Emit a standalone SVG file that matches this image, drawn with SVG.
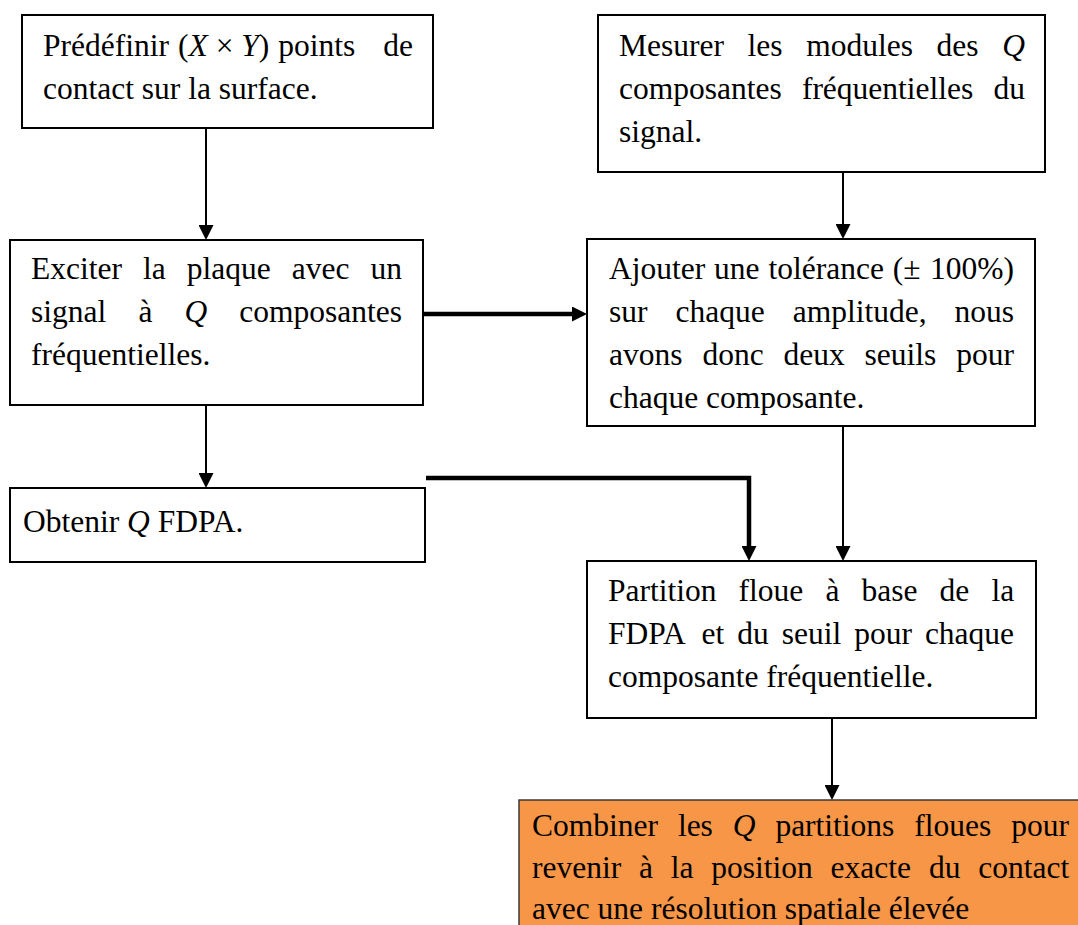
<svg xmlns="http://www.w3.org/2000/svg" width="1078" height="925" viewBox="0 0 1078 925">
<style>
.box{fill:#fff;stroke:#000;stroke-width:2}
.hl{fill:#F79646;stroke:#3a3a3a;stroke-width:1.5}
text{font-family:"Liberation Serif","Times New Roman",serif;font-size:31.5px;fill:#000}
.i{font-style:italic}
.thin{fill:none;stroke:#000;stroke-width:2}
.thick{fill:none;stroke:#000;stroke-width:4.5}
</style>
<defs>
<marker id="ah" markerUnits="userSpaceOnUse" markerWidth="15" markerHeight="15" refX="5" refY="7.5" orient="auto">
<path d="M0,0 L15,7.5 L0,15 z" fill="#000"/>
</marker>
</defs>
<rect width="1078" height="925" fill="#fff"/>
<g id="connectors">
<path class="thin" d="M206,128 V230" marker-end="url(#ah)"/>
<path class="thin" d="M206,405 V478" marker-end="url(#ah)"/>
<path class="thin" d="M843,172 V229" marker-end="url(#ah)"/>
<path class="thin" d="M843,426 V551" marker-end="url(#ah)"/>
<path class="thin" d="M832,718 V790" marker-end="url(#ah)"/>
<path class="thick" d="M424,314 H577" marker-end="url(#ah)"/>
<path class="thick" d="M426,478 H749 V551" marker-end="url(#ah)"/>
</g>
<g id="n1">
<rect class="box" x="22" y="15" width="411" height="113"/>
<text y="56"><tspan x="43">Prédéfinir</tspan><tspan x="178">(</tspan><tspan class="i">X</tspan> × <tspan class="i">Y</tspan>)<tspan x="278.3">points</tspan><tspan x="383.3">de</tspan></text>
<text x="43" y="99">contact sur la surface.</text>
</g>
<g id="n2">
<rect class="box" x="598" y="15" width="447" height="157"/>
<text y="56"><tspan x="619">Mesurer</tspan><tspan x="747.6">les</tspan><tspan x="806.2">modules</tspan><tspan x="936.6">des</tspan><tspan x="1002.2" class="i">Q</tspan></text>
<text y="99"><tspan x="619">composantes</tspan><tspan x="801.9">fréquentielles</tspan><tspan x="993.6">du</tspan></text>
<text x="619" y="142">signal.</text>
</g>
<g id="n3">
<rect class="box" x="10" y="240" width="413" height="165"/>
<text y="279"><tspan x="31">Exciter</tspan><tspan x="143">la</tspan><tspan x="186.7">plaque</tspan><tspan x="291.7">avec</tspan><tspan x="370.4">un</tspan></text>
<text y="322"><tspan x="31">signal</tspan><tspan x="138.4">à</tspan><tspan x="184.5" class="i">Q</tspan><tspan x="239.3">composantes</tspan></text>
<text x="31" y="365">fréquentielles.</text>
</g>
<g id="n4">
<rect class="box" x="10" y="488" width="415" height="74"/>
<text x="23" y="532">Obtenir <tspan class="i">Q</tspan> FDPA.</text>
</g>
<g id="n5">
<rect class="box" x="587" y="239" width="448" height="187"/>
<text y="279"><tspan x="609">Ajouter</tspan><tspan x="714.1">une</tspan><tspan x="768.5">tolérance</tspan><tspan x="892.8">(±</tspan><tspan x="930">100%)</tspan></text>
<text y="322"><tspan x="609">sur</tspan><tspan x="675.5">chaque</tspan><tspan x="792.7">amplitude,</tspan><tspan x="954.6">nous</tspan></text>
<text y="365"><tspan x="609">avons</tspan><tspan x="702.4">donc</tspan><tspan x="783.5">deux</tspan><tspan x="864.6">seuils</tspan><tspan x="956.3">pour</tspan></text>
<text x="609" y="408">chaque composante.</text>
</g>
<g id="n6">
<rect class="box" x="587" y="561" width="449" height="157"/>
<text y="601"><tspan x="608">Partition</tspan><tspan x="738.6">floue</tspan><tspan x="825.4">à</tspan><tspan x="861.5">base</tspan><tspan x="939.6">de</tspan><tspan x="991.4">la</tspan></text>
<text y="644"><tspan x="608">FDPA</tspan><tspan x="701.5">et</tspan><tspan x="737.2">du</tspan><tspan x="781.7">seuil</tspan><tspan x="854.2">pour</tspan><tspan x="924.9">chaque</tspan></text>
<text x="608" y="687">composante fréquentielle.</text>
</g>
<g id="n7">
<rect class="hl" x="519" y="800" width="580" height="140"/>
<text y="836"><tspan x="532">Combiner</tspan><tspan x="677.9">les</tspan><tspan x="732.8" class="i">Q</tspan><tspan x="775.4">partitions</tspan><tspan x="914.3">floues</tspan><tspan x="1011.2">pour</tspan></text>
<text y="878"><tspan x="532">revenir</tspan><tspan x="639">à</tspan><tspan x="670.8">la</tspan><tspan x="711.3">position</tspan><tspan x="830.6">exacte</tspan><tspan x="928.9">du</tspan><tspan x="978.2">contact</tspan></text>
<text x="532" y="919">avec une résolution spatiale élevée</text>
</g>
</svg>
